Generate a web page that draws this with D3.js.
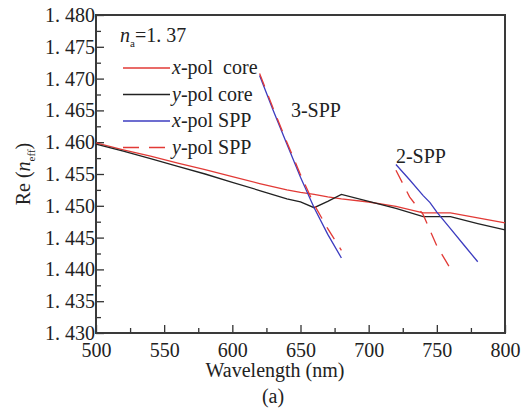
<!DOCTYPE html>
<html>
<head>
    <meta charset="utf-8">
    <script src="https://d3js.org/d3.v7.min.js"></script>
    <style>
        body { margin: 0; background: #fff; }
        svg text { font-family: "Liberation Serif", "Times New Roman", "DejaVu Serif", serif !important; fill: #222; }
    </style>
</head>
<body>
<svg class="chart"></svg>
<script>
    // wavelengths (nm) and Re(n_eff) values
    var coreWl = [500, 520, 540, 560, 580, 600, 620, 640, 650, 660, 670, 680, 700, 720, 740, 760, 780, 800];
    var xpolCore = [1.4599, 1.4588, 1.4578, 1.4567, 1.4557, 1.4546, 1.4535, 1.4525, 1.4521, 1.4518, 1.4514, 1.4511, 1.4506, 1.4499, 1.4489, 1.4489, 1.4481, 1.4473];
    var ypolCore = [1.4597, 1.4586, 1.4574, 1.4562, 1.4550, 1.4537, 1.4524, 1.4511, 1.4506, 1.4497, 1.4507, 1.4518, 1.4507, 1.4496, 1.4483, 1.4483, 1.4472, 1.4462];

    // 3-SPP branch
    var spp3Wl = [620, 630, 640, 650, 660, 670, 680];
    var xpolSpp3 = [1.4705, 1.4650, 1.4597, 1.4545, 1.4497, 1.4455, 1.4418];
    var ypolSpp3 = [1.4708, 1.4653, 1.4600, 1.4549, 1.4502, 1.4464, 1.4430];

    // 2-SPP branch
    var xSpp2Wl = [720, 730, 740, 745, 750, 760, 770, 780];
    var xpolSpp2 = [1.4565, 1.4541, 1.4516, 1.4505, 1.4490, 1.4464, 1.4438, 1.4412];
    var ySpp2Wl = [720, 730, 740, 750, 760];
    var ypolSpp2 = [1.4556, 1.4514, 1.4486, 1.4437, 1.4401];

    var xTicks = [500, 550, 600, 650, 700, 750, 800];
    var yTicks = [1.430, 1.435, 1.440, 1.445, 1.450, 1.455, 1.460, 1.465, 1.470, 1.475, 1.480];

    var legendItems = ["x|-pol  core", "y|-pol core", "x|-pol SPP", "y|-pol SPP"];

    var W = 529, H = 408;
    var margin = { top: 15, right: 24, bottom: 75, left: 96 };
    var width = W - margin.left - margin.right;
    var height = H - margin.top - margin.bottom;

    var red = "#e23a36", black = "#222", blue = "#3c3cc0";
    var serif = "'Liberation Serif', 'Times New Roman', serif";

    var svg = d3.select(".chart").attr("width", W).attr("height", H)
        .attr("font-family", serif);
    var chart = svg.append("g")
        .attr("transform", "translate(" + margin.left + "," + margin.top + ")");

    var x = d3.scaleLinear().domain([500, 800]).range([0, width]);
    var y = d3.scaleLinear().domain([1.430, 1.480]).range([height, 0]);

    var fmt = function(d) { return d3.format(".3f")(d).replace(".", ". "); };

    // minor ticks
    chart.append("g")
        .attr("transform", "translate(0," + height + ")")
        .call(d3.axisBottom(x).tickValues(d3.range(525, 800, 50)).tickSize(-5).tickFormat(""))
        .call(function(g) { g.select(".domain").remove(); });
    chart.append("g")
        .call(d3.axisLeft(y).tickValues(yTicks.slice(0, -1).map(function(d) { return d + 0.0025; })).tickSize(-5).tickFormat(""))
        .call(function(g) { g.select(".domain").remove(); });

    // major axes
    chart.append("g")
        .attr("transform", "translate(0," + height + ")")
        .call(d3.axisBottom(x).tickValues(xTicks).tickSize(-8).tickPadding(10).tickFormat(d3.format("d")));
    chart.append("g")
        .call(d3.axisLeft(y).tickValues(yTicks).tickSize(-8).tickPadding(1).tickFormat(fmt));

    chart.selectAll("g").attr("font-family", serif);
    chart.selectAll(".tick line").attr("stroke", "#333").attr("stroke-width", 1.3);
    chart.selectAll(".domain").remove();
    chart.selectAll(".tick text")
        .attr("font-size", 20)
        .attr("fill", "#222");

    // frame
    chart.append("rect")
        .attr("width", width).attr("height", height)
        .attr("fill", "none").attr("stroke", "#3a3a3a").attr("stroke-width", 2);

    var line = d3.line()
        .x(function(d) { return x(d[0]); })
        .y(function(d) { return y(d[1]); });

    function drawLine(wl, vals, color, dash) {
        chart.append("path")
            .datum(d3.zip(wl, vals))
            .attr("fill", "none")
            .attr("stroke", color)
            .attr("stroke-width", 1.3)
            .attr("stroke-dasharray", dash || null)
            .attr("d", line);
    }

    drawLine(coreWl, xpolCore, red);
    drawLine(coreWl, ypolCore, black);
    drawLine(spp3Wl, xpolSpp3, blue);
    drawLine(spp3Wl, ypolSpp3, red, "14,10");
    drawLine(xSpp2Wl, xpolSpp2, blue);
    drawLine(ySpp2Wl, ypolSpp2, red, "14,10");

    // annotations
    chart.append("text").attr("x", x(643)).attr("y", y(1.4640)).attr("font-size", 20).text("3-SPP");
    chart.append("text").attr("x", x(720)).attr("y", y(1.4568)).attr("font-size", 20).text("2-SPP");

    var na = chart.append("text").attr("x", 24).attr("y", 27).attr("font-size", 20);
    na.append("tspan").attr("font-style", "italic").text("n");
    na.append("tspan").attr("font-size", 11).attr("dy", 5).text("a");
    na.append("tspan").attr("dy", -5).text("=1. 37");

    // legend
    var legColors = [red, black, blue, red];
    var legDash = [null, null, null, "16,10"];
    legendItems.forEach(function(s, i) {
        var ly = 53 + i * 26.5;
        chart.append("line")
            .attr("x1", 27).attr("x2", 74).attr("y1", ly).attr("y2", ly)
            .attr("stroke", legColors[i]).attr("stroke-width", 1.3)
            .attr("stroke-dasharray", legDash[i]);
        var parts = s.split("|");
        var t = chart.append("text").attr("x", 76).attr("y", ly + 6).attr("font-size", 20)
            .attr("xml:space", "preserve").style("white-space", "pre");
        t.append("tspan").attr("font-style", "italic").text(parts[0]);
        t.append("tspan").text(parts[1]);
    });

    // axis titles
    svg.append("text")
        .attr("x", 275).attr("y", 377)
        .attr("text-anchor", "middle").attr("font-size", 20)
        .text("Wavelength (nm)");
    svg.append("text")
        .attr("x", 273).attr("y", 403)
        .attr("text-anchor", "middle").attr("font-size", 20)
        .text("(a)");

    var yt = svg.append("text")
        .attr("transform", "translate(30," + (margin.top + height / 2) + ") rotate(-90)")
        .attr("text-anchor", "middle").attr("font-size", 20);
    yt.append("tspan").text("Re (");
    yt.append("tspan").attr("font-style", "italic").text("n");
    yt.append("tspan").attr("font-size", 11).attr("dy", 5).text("eff");
    yt.append("tspan").attr("dy", -5).text(")");
</script>
</body>
</html>
